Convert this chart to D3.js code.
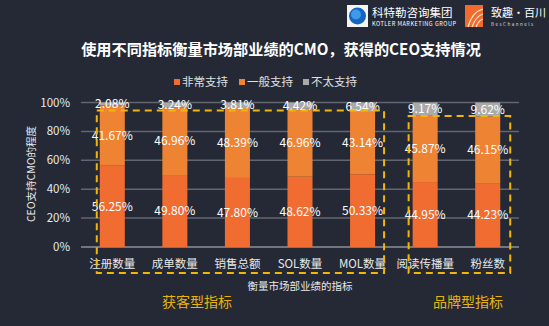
<!DOCTYPE html>
<html><head><meta charset="utf-8">
<script src="https://cdn.jsdelivr.net/npm/d3@7"></script>
<style>
html,body{margin:0;padding:0;background:#242935;}
svg{display:block;font-family:"Noto Sans CJK SC","Noto Sans",sans-serif;}
</style></head>
<body><svg id="c" width="549" height="326"></svg>
<script>
const categories = ["注册数量","成单数量","销售总额","SOL数量","MOL数量","阅读传播量","粉丝数"];
const seriesNames = ["非常支持","一般支持","不太支持"];
const veryHigh = [56.25,49.80,47.80,48.62,50.33,44.95,44.23];
const medium = [41.67,46.96,48.39,46.96,43.14,45.87,46.15];
const low = [2.08,3.24,3.81,4.42,6.54,9.17,9.62];
const yTicks = [0,20,40,60,80,100];
const groupNames = ["获客型指标","品牌型指标"];
const groups = [[0,4],[5,6]];
const colors = ["#f06c31","#ee8333","#a9a9a9"];

const svg = d3.select("#c");
svg.append("rect").attr("width",549).attr("height",326).attr("fill","#242935");

const x = d3.scaleBand().domain(categories).range([81,519]).paddingInner(0.6).paddingOuter(0.3);
const y = d3.scaleLinear().domain([0,100]).range([247,102.5]);

// grid
svg.append("g").selectAll("line").data(yTicks).join("line")
  .attr("x1",81).attr("x2",519).attr("y1",d=>y(d)).attr("y2",d=>y(d))
  .attr("stroke",d=>d===0?"#8d9098":"#62666f").attr("stroke-width",1.5);

// y tick labels
svg.append("g").selectAll("text").data(yTicks).join("text")
  .attr("x",70).attr("y",d=>y(d)).attr("dy","0.35em").attr("text-anchor","end")
  .attr("fill","#e8e8e8").attr("font-size",11.5).text(d=>d+"%");

const rows = categories.map((c,i)=>({cat:c,"非常支持":veryHigh[i],"一般支持":medium[i],"不太支持":low[i]}));
const stack = d3.stack().keys(seriesNames)(rows);

stack.forEach((s,si)=>{
  svg.append("g").selectAll("rect").data(s).join("rect")
    .attr("x",d=>x(d.data.cat)).attr("width",x.bandwidth())
    .attr("y",d=>y(d[1])).attr("height",d=>y(d[0])-y(d[1]))
    .attr("fill",colors[si]);
});
stack.forEach((s,si)=>{
  svg.append("g").selectAll("text").data(s).join("text")
    .attr("x",d=>x(d.data.cat)+x.bandwidth()/2)
    .attr("y",d=>y((d[0]+d[1])/2)).attr("dy","0.35em").attr("text-anchor","middle")
    .attr("fill","#ffffff").attr("font-size",12)
    .text(d=>(d[1]-d[0]).toFixed(2)+"%");
});

// category labels
svg.append("g").selectAll("text").data(categories).join("text")
  .attr("x",d=>x(d)+x.bandwidth()/2).attr("y",264).attr("dy","0.35em")
  .attr("text-anchor","middle").attr("fill","#e8e8e8").attr("font-size",11.5).text(d=>d);

// axis titles
svg.append("text").attr("x",300).attr("y",286).attr("dy","0.35em").attr("text-anchor","middle")
  .attr("fill","#e8e8e8").attr("font-size",10.5).text("衡量市场部业绩的指标");
svg.append("text").attr("transform","translate(31,174) rotate(-90)").attr("dy","0.35em")
  .attr("text-anchor","middle").attr("fill","#e8e8e8").attr("font-size",10.5).text("CEO支持CMO的程度");

// legend
const lx = [174,239,303];
seriesNames.forEach((n,i)=>{
  svg.append("rect").attr("x",lx[i]).attr("y",79).attr("width",6).attr("height",6).attr("fill",colors[i]);
  svg.append("text").attr("x",lx[i]+8).attr("y",82).attr("dy","0.35em").attr("fill","#e0e0e0")
    .attr("font-size",11.5).text(n);
});

// dashed group boxes
const boxTop = [110.5,116];
groups.forEach((g,i)=>{
  const x0 = x(categories[g[0]]) - 3;
  const x1 = x(categories[g[1]]) + x.bandwidth() + (i===0?9:10);
  const xs = i===0 ? x0 : x0-1;
  svg.append("rect").attr("x",xs).attr("y",boxTop[i]).attr("width",x1-xs).attr("height",273-boxTop[i])
    .attr("fill","none").attr("stroke","#f2b705").attr("stroke-width",2).attr("stroke-dasharray","7,5");
  svg.append("text").attr("x",i===0?197:468).attr("y",302).attr("dy","0.35em").attr("text-anchor","middle")
    .attr("fill","#e6b50c").attr("font-size",14).text(groupNames[i]);
});

// title
svg.append("text").attr("x",281).attr("y",50).attr("dy","0.35em").attr("text-anchor","middle")
  .attr("fill","#ffffff").attr("font-size",15.2).attr("font-weight","bold")
  .text("使用不同指标衡量市场部业绩的CMO，获得的CEO支持情况");

// logos (decoration)
const lg = svg.append("g");
lg.append("rect").attr("x",347).attr("y",5).attr("width",21).attr("height",22).attr("fill","#f4f4f4");
lg.append("circle").attr("cx",357.5).attr("cy",16).attr("r",8.5).attr("fill","#1565c0");
lg.append("circle").attr("cx",356).attr("cy",14.5).attr("r",5).attr("fill","#3d9be9");
lg.append("text").attr("x",372).attr("y",13).attr("dy","0.35em").attr("fill","#ffffff").attr("font-size",11.5).text("科特勒咨询集团");
lg.append("text").attr("x",372).attr("y",24).attr("dy","0.35em").attr("fill","#ffffff").attr("font-size",5.6).attr("textLength",84).text("KOTLER MARKETING GROUP");
lg.append("rect").attr("x",465).attr("y",5).attr("width",18).attr("height",22).attr("fill","#f26b2c");
lg.append("path").attr("d","M468,27 Q472,12 483,9 M472,27 Q476,16 483,14 M476,27 Q479,20 483,19").attr("stroke","#fde0c8").attr("stroke-width",1.2).attr("fill","none");
lg.append("text").attr("x",491).attr("y",13).attr("dy","0.35em").attr("fill","#ffffff").attr("font-size",11).text("致趣·百川");
lg.append("text").attr("x",491).attr("y",24).attr("dy","0.35em").attr("fill","#dddddd").attr("font-size",4.5).attr("letter-spacing","1.5").text("BesChannels");
</script></body></html>
